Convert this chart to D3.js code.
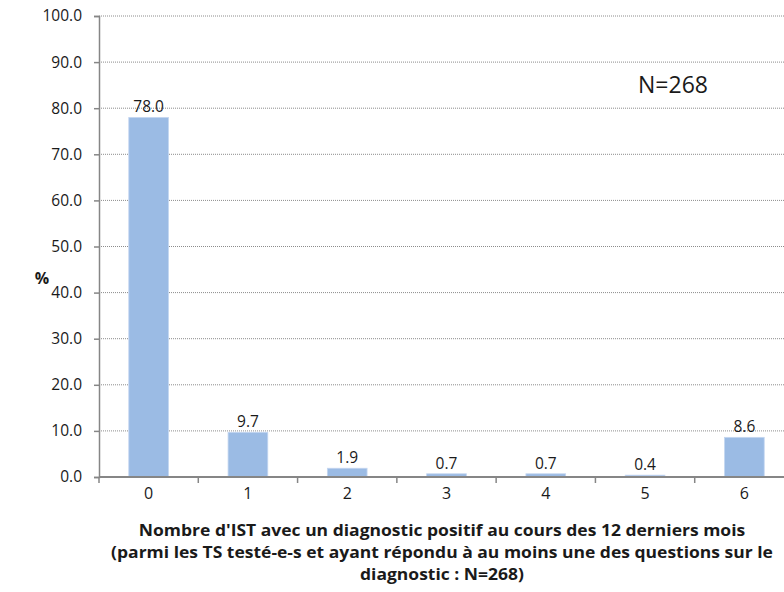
<!DOCTYPE html>
<html>
<head>
<meta charset="utf-8">
<script src="https://cdn.jsdelivr.net/npm/d3@7"></script>
<style>
  html, body { margin: 0; padding: 0; background: #fff; }
  svg { display: block; font-family: "Open Sans", Lato, sans-serif; }
</style>
</head>
<body>
<svg id="chart" width="784" height="592"></svg>
<script>
// Number of STI diagnoses in the last 12 months (share of respondents, %)
const categories = ["0", "1", "2", "3", "4", "5", "6"];
const values = [78.0, 9.7, 1.9, 0.7, 0.7, 0.4, 8.6];
const yTicks = [0, 10, 20, 30, 40, 50, 60, 70, 80, 90, 100];
const titleLines = [
  "Nombre d'IST avec un diagnostic positif au cours des 12 derniers mois",
  "(parmi les TS testé-e-s et ayant répondu à au moins une des questions sur le",
  "diagnostic : N=268)"
];
const annotation = "N=268";
const yLabel = "%";

const svg = d3.select("#chart");
const plot = { left: 99, right: 794, top: 16, bottom: 477 };

const x = d3.scaleBand()
  .domain(categories)
  .range([plot.left, plot.right])
  .paddingInner(0.6)
  .paddingOuter(0.3);

const y = d3.scaleLinear()
  .domain([0, 100])
  .range([plot.bottom, plot.top]);

// horizontal dotted gridlines
svg.append("g")
  .selectAll("line")
  .data(yTicks.filter(d => d > 0))
  .join("line")
  .attr("x1", plot.left).attr("x2", 784)
  .attr("y1", d => y(d)).attr("y2", d => y(d))
  .attr("stroke", "#8c8c8c")
  .attr("stroke-width", 1)
  .attr("stroke-dasharray", "1,1");

// bars
svg.append("g")
  .selectAll("rect")
  .data(values)
  .join("rect")
  .attr("x", (d, i) => x(categories[i]))
  .attr("y", d => y(d))
  .attr("width", x.bandwidth())
  .attr("height", d => y(0) - y(d))
  .attr("fill", "#9bbbe4")
  .attr("stroke", "#c4d6f0")
  .attr("stroke-width", 0.8);

// value labels
svg.append("g")
  .selectAll("text")
  .data(values)
  .join("text")
  .attr("x", (d, i) => x(categories[i]) + x.bandwidth() / 2)
  .attr("y", d => y(d) - 5)
  .attr("text-anchor", "middle")
  .attr("font-size", 15.5)
  .attr("fill", "#1a1a1a")
  .text(d => d.toFixed(1));

// y axis
const yAxis = d3.axisLeft(y)
  .tickValues(yTicks)
  .tickFormat(d3.format(".1f"))
  .tickSize(5)
  .tickPadding(12);
const gy = svg.append("g")
  .attr("transform", `translate(${plot.left},0)`)
  .call(yAxis);
gy.select(".domain").attr("stroke", "#868686").attr("stroke-width", 1.5);
gy.selectAll(".tick line").attr("stroke", "#868686").attr("stroke-width", 1.5);
gy.selectAll(".tick text")
  .attr("font-size", 15.5)
  .attr("fill", "#1a1a1a")
  .attr("font-family", "'Open Sans', Lato, sans-serif");

// x axis: ticks sit on category boundaries
const gx = svg.append("g")
  .attr("transform", `translate(0,${plot.bottom})`);
gx.append("line")
  .attr("x1", plot.left).attr("x2", 784)
  .attr("y1", 0).attr("y2", 0)
  .attr("stroke", "#868686").attr("stroke-width", 2);
const bounds = d3.range(categories.length).map(i => plot.left + i * x.step());
gx.selectAll("line.tk")
  .data(bounds)
  .join("line")
  .attr("class", "tk")
  .attr("x1", d => d).attr("x2", d => d)
  .attr("y1", 0).attr("y2", 6)
  .attr("stroke", "#868686").attr("stroke-width", 1.5);
gx.selectAll("text")
  .data(categories)
  .join("text")
  .attr("x", d => x(d) + x.bandwidth() / 2)
  .attr("y", 22)
  .attr("text-anchor", "middle")
  .attr("font-size", 16)
  .attr("fill", "#1a1a1a")
  .text(d => d);

// y label
svg.append("text")
  .attr("x", 42).attr("y", 284)
  .attr("text-anchor", "middle")
  .attr("font-size", 16)
  .attr("font-weight", "bold")
  .attr("fill", "#1a1a1a")
  .text(yLabel);

// sample size annotation
svg.append("text")
  .attr("x", 673).attr("y", 93)
  .attr("text-anchor", "middle")
  .attr("font-size", 23)
  .attr("fill", "#1a1a1a")
  .text(annotation);

// axis title, slightly widened
svg.append("g")
  .attr("transform", "translate(442,0) scale(1.13,1)")
  .selectAll("text")
  .data(titleLines)
  .join("text")
  .attr("x", 0)
  .attr("y", (d, i) => 536 + i * 22)
  .attr("text-anchor", "middle")
  .attr("font-size", 15.5)
  .attr("font-weight", "bold")
  .attr("fill", "#1a1a1a")
  .text(d => d);
</script>
</body>
</html>
